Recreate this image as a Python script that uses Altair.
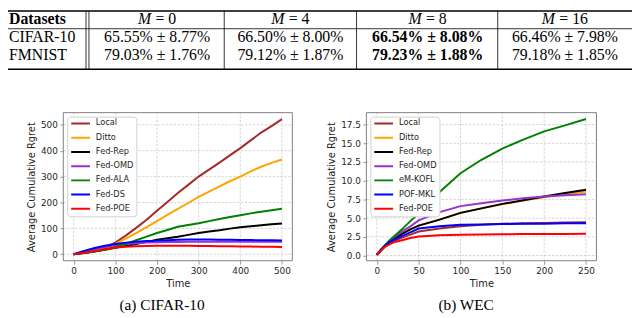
import altair as alt
import pandas as pd

# ---------------- table content ----------------
m_values = ["0", "4", "8", "16"]
best_m = "8"
datasets = ["CIFAR-10", "FMNIST"]
cifar_cells = ["65.55% ± 8.77%", "66.50% ± 8.00%", "66.54% ± 8.08%", "66.46% ± 7.98%"]
fmnist_cells = ["79.03% ± 1.76%", "79.12% ± 1.87%", "79.23% ± 1.88%", "79.18% ± 1.85%"]
captions = ["(a) CIFAR-10", "(b) WEC"]

# ---------------- CIFAR-10 panel ----------------
cifar_methods = ["Local", "Ditto", "Fed-Rep", "Fed-OMD", "Fed-ALA", "Fed-DS", "Fed-POE"]
cifar_time = [0, 25, 50, 75, 100, 125, 150, 175, 200, 225, 250, 275, 300, 325, 350, 375, 400, 425, 450, 475, 500]
cifar_local = [0, 6, 14, 26, 45, 72, 102, 133, 168, 202, 237, 268, 300, 327, 354, 382, 410, 440, 470, 495, 522]
cifar_ditto = [0, 6, 14, 24, 40, 60, 82, 105, 128, 152, 175, 198, 222, 242, 262, 282, 300, 320, 338, 353, 366]
cifar_fedrep = [0, 5, 11, 17, 25, 32, 40, 48, 56, 62, 68, 75, 82, 88, 93, 99, 104, 108, 112, 116, 119]
cifar_fedomd = [0, 10, 20, 28, 35, 40, 43, 45, 46, 47, 47, 48, 48, 48, 48, 48, 48, 48, 48, 48, 48]
cifar_fedala = [0, 5, 11, 18, 28, 40, 54, 68, 82, 94, 106, 113, 120, 128, 136, 144, 151, 158, 164, 170, 176]
cifar_fedds = [0, 13, 24, 33, 40, 45, 48, 51, 52, 54, 56, 57, 57, 57, 56, 56, 55, 55, 54, 54, 53]
cifar_fedpoe = [0, 6, 13, 20, 26, 29, 31, 32, 33, 33, 33, 33, 32, 32, 31, 31, 30, 30, 29, 29, 28]
cifar_xticks = [0, 100, 200, 300, 400, 500]
cifar_yticks = [0, 100, 200, 300, 400, 500]

# ---------------- WEC panel ----------------
wec_methods = ["Local", "Ditto", "Fed-Rep", "Fed-OMD", "eM-KOFL", "POF-MKL", "Fed-POE"]
wec_time = [0, 5, 10, 15, 20, 30, 40, 50, 75, 100, 125, 150, 175, 200, 225, 250]
wec_local = [0.1, 0.7, 1.2, 1.6, 1.9, 2.4, 2.8, 3.2, 3.6, 3.9, 4.1, 4.25, 4.3, 4.35, 4.4, 4.45]
wec_ditto = [0.1, 0.7, 1.3, 1.8, 2.2, 2.9, 3.5, 4.0, 4.8, 5.7, 6.3, 6.85, 7.35, 7.8, 8.2, 8.55]
wec_fedrep = [0.1, 0.7, 1.3, 1.8, 2.2, 2.9, 3.5, 4.0, 4.8, 5.7, 6.3, 6.9, 7.4, 7.9, 8.35, 8.8]
wec_fedomd = [0.1, 0.8, 1.4, 1.9, 2.4, 3.2, 3.9, 4.7, 5.8, 6.6, 7.0, 7.35, 7.65, 7.9, 8.05, 8.2]
wec_emkofl = [0.1, 0.8, 1.4, 2.0, 2.5, 3.5, 4.6, 5.6, 8.5, 11.0, 12.8, 14.3, 15.5, 16.6, 17.4, 18.25]
wec_pofmkl = [0.1, 0.8, 1.3, 1.8, 2.1, 2.6, 3.1, 3.6, 3.9, 4.1, 4.15, 4.2, 4.25, 4.25, 4.3, 4.3]
wec_fedpoe = [0.1, 0.7, 1.2, 1.5, 1.75, 2.05, 2.35, 2.55, 2.7, 2.78, 2.82, 2.85, 2.87, 2.88, 2.89, 2.9]
wec_xticks = [0, 50, 100, 150, 200, 250]
wec_yticks = [0.0, 2.5, 5.0, 7.5, 10.0, 12.5, 15.0, 17.5]

colors = ["#a52a2a", "#ffa500", "#000000", "#9932cc", "#008000", "#0000ff", "#ff0000"]

# ---------------- layout (pixels) ----------------
W, H = 632, 310
SERIF = "Liberation Serif"
SANS = "DejaVu Sans"
TFS = 16
col_centers = [151, 286, 425, 564]
name_x = 1
header_y, row_ys = 9.5, [27.5, 45.5]
hrules = [(1, 1.6), (19, 0.8), (60, 1.6)]
vlines = [79, 82, 219, 353, 496]
caption_pos = [(156, 299), (464, 299)]


def tscale_x():
    return alt.Scale(domain=[0, W], range=[0, W], nice=False, zero=False)


def tscale_y():
    return alt.Scale(domain=[0, H], range=[0, H], nice=False, zero=False)


def text_layer(df, align="center", weight="normal", style="normal", size=TFS):
    return alt.Chart(df).mark_text(align=align, baseline="middle", font=SERIF, fontSize=size,
                                   fontWeight=weight, fontStyle=style, color="black").encode(
        x=alt.X("x:Q", scale=tscale_x(), axis=None),
        y=alt.Y("y:Q", scale=tscale_y(), axis=None),
        text="text:N")


m_rows, eq_rows = [], []
for c, m in zip(col_centers, m_values):
    total = (0.833 + 0.278 + 0.564 + 0.25 + 0.5 * len(m)) * TFS
    m_right = c - total / 2 + 0.833 * TFS
    m_rows.append({"x": m_right, "y": header_y, "text": "M"})
    eq_rows.append({"x": m_right + 0.278 * TFS, "y": header_y, "text": "= " + m})

cell_rows, bold_rows = [], []
for ry, cells in zip(row_ys, [cifar_cells, fmnist_cells]):
    for c, m, t in zip(col_centers, m_values, cells):
        (bold_rows if m == best_m else cell_rows).append({"x": c, "y": ry, "text": t})

layers = [
    text_layer(pd.DataFrame([{"x": name_x, "y": header_y, "text": "Datasets"}]), align="left", weight="bold"),
    text_layer(pd.DataFrame({"x": [name_x] * 2, "y": row_ys, "text": datasets}), align="left"),
    text_layer(pd.DataFrame(m_rows), align="right", style="italic"),
    text_layer(pd.DataFrame(eq_rows), align="left"),
    text_layer(pd.DataFrame(cell_rows)),
    text_layer(pd.DataFrame(bold_rows), weight="bold"),
    text_layer(pd.DataFrame({"x": [p[0] for p in caption_pos], "y": [p[1] for p in caption_pos],
                             "text": captions}), size=15.5),
]
for yv, sw in hrules:
    layers.append(alt.Chart(pd.DataFrame({"x": [0], "x2": [W], "y": [yv]})).mark_rule(
        color="black", strokeWidth=sw).encode(
        x=alt.X("x:Q", scale=tscale_x(), axis=None), x2="x2:Q",
        y=alt.Y("y:Q", scale=tscale_y(), axis=None)))
layers.append(alt.Chart(pd.DataFrame({"x": vlines, "y": [hrules[0][0]] * len(vlines),
                                      "y2": [hrules[2][0]] * len(vlines)})).mark_rule(
    color="black", strokeWidth=0.8).encode(
    x=alt.X("x:Q", scale=tscale_x(), axis=None),
    y=alt.Y("y:Q", scale=tscale_y(), axis=None), y2="y2:Q"))


def long_df(time, methods, series):
    rows = []
    for name, vals in zip(methods, series):
        for t, v in zip(time, vals):
            rows.append({"time": t, "value": v, "method": name})
    return pd.DataFrame(rows)


axis_style = dict(grid=False, domain=False, tickColor="#808080", tickSize=3.5, tickWidth=0.8,
                  labelFont=SANS, labelFontSize=9, labelColor="#262626", labelPadding=2.5,
                  titleFont=SANS, titleFontSize=10, titleFontWeight="normal", titleColor="#262626",
                  labelOverlap=False)


def panel(df, methods, xdom, ydom, xr, yr, xticks, yticks, yfmt, legend_xy):
    def xs():
        return alt.Scale(domain=xdom, range=xr, nice=False, zero=False)

    def ys():
        return alt.Scale(domain=ydom, range=yr, nice=False, zero=False)

    gx = alt.Chart(pd.DataFrame({"time": xticks, "v0": [ydom[0]] * len(xticks),
                                 "v1": [ydom[1]] * len(xticks)})).mark_rule(
        color="#c4c4c4", strokeWidth=0.7, strokeDash=[2.5, 1.5]).encode(
        x=alt.X("time:Q", scale=xs(), axis=None),
        y=alt.Y("v0:Q", scale=ys(), axis=None), y2="v1:Q")
    gy = alt.Chart(pd.DataFrame({"value": yticks, "t0": [xdom[0]] * len(yticks),
                                 "t1": [xdom[1]] * len(yticks)})).mark_rule(
        color="#c4c4c4", strokeWidth=0.7, strokeDash=[2.5, 1.5]).encode(
        y=alt.Y("value:Q", scale=ys(), axis=None),
        x=alt.X("t0:Q", scale=xs(), axis=None), x2="t1:Q")
    lines = alt.Chart(df).mark_line(strokeWidth=2).encode(
        x=alt.X("time:Q", scale=xs(),
                axis=alt.Axis(values=xticks, orient="bottom", offset=yr[0] - H, title="Time",
                              titlePadding=3, format="d", **axis_style)),
        y=alt.Y("value:Q", scale=ys(),
                axis=alt.Axis(values=yticks, orient="left", offset=-xr[0],
                              title="Average Cumulative Rgret", titlePadding=4, format=yfmt, **axis_style)),
        color=alt.Color("method:N", scale=alt.Scale(domain=methods, range=colors), sort=methods,
                        legend=alt.Legend(orient="none", legendX=legend_xy[0], legendY=legend_xy[1],
                                          title=None, symbolType="stroke", symbolSize=361,
                                          symbolStrokeWidth=2, labelFont=SANS, labelFontSize=8.3,
                                          labelColor="#262626", labelOffset=5, padding=3,
                                          rowPadding=5.4, clipHeight=8, strokeColor="#d0d0d0",
                                          fillColor="white", cornerRadius=3)),
    )
    frame = alt.Chart(pd.DataFrame({"t0": [xdom[0]], "t1": [xdom[1]], "v0": [ydom[0]], "v1": [ydom[1]]})).mark_rect(
        filled=False, color="#808080", strokeWidth=1).encode(
        x=alt.X("t0:Q", scale=xs(), axis=None), x2="t1:Q",
        y=alt.Y("v0:Q", scale=ys(), axis=None), y2="v1:Q")
    return [gx, gy, lines, frame]


layers += panel(long_df(cifar_time, cifar_methods,
                        [cifar_local, cifar_ditto, cifar_fedrep, cifar_fedomd, cifar_fedala, cifar_fedds, cifar_fedpoe]),
                cifar_methods, [-25, 525], [-25, 547], [56, 288], [254, 104],
                cifar_xticks, cifar_yticks, "d", (60, 108))
layers += panel(long_df(wec_time, wec_methods,
                        [wec_local, wec_ditto, wec_fedrep, wec_fedomd, wec_emkofl, wec_pofmkl, wec_fedpoe]),
                wec_methods, [-12.5, 262.5], [-0.7, 19.1], [363, 596], [254, 104],
                wec_xticks, wec_yticks, ".1f", (367, 108))

chart = alt.layer(*layers).resolve_scale(
    x="independent", y="independent", color="independent"
).properties(
    width=W, height=H, padding=0, autosize=alt.AutoSizeParams(type="none")
).configure_view(stroke=None)

chart.save("out.html", embed_options={"renderer": "svg", "actions": False})
